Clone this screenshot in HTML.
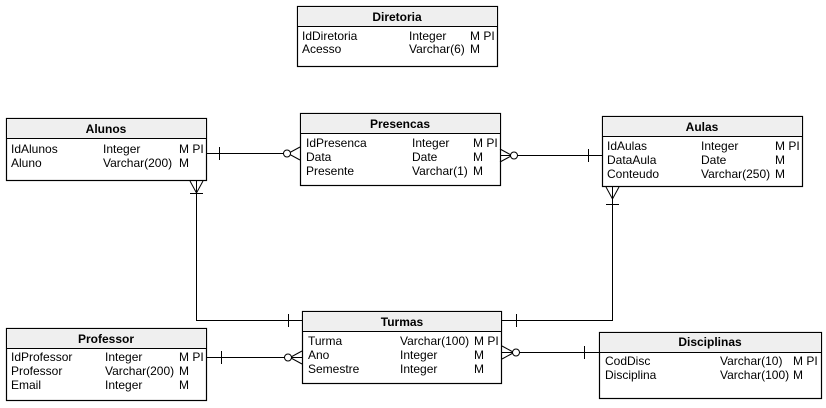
<!DOCTYPE html>
<html><head><meta charset="utf-8"><style>
html,body{margin:0;padding:0;background:#fff;}
svg{display:block;font-family:"Liberation Sans",Arial,sans-serif;font-size:12px;}
.b{fill:#fff;stroke:#000;stroke-width:1.2}
.h{fill:#efefef;stroke:#000;stroke-width:1}
.t{font-weight:bold;text-anchor:middle}
.l{stroke:#000;stroke-width:1;fill:none}
</style></head><body>
<svg width="826" height="408" viewBox="0 0 826 408">
<rect class="b" x="297.5" y="6.5" width="200" height="60"/>
<rect class="h" x="297.5" y="6.5" width="200" height="20"/>
<text class="t" x="397" y="21">Diretoria</text>
<text x="302" y="40">IdDiretoria</text><text x="409" y="40">Integer</text><text x="470" y="40">M PI</text>
<text x="302" y="53">Acesso</text><text x="409" y="53">Varchar(6)</text><text x="470" y="53">M</text>

<rect class="b" x="6.5" y="118.5" width="200" height="62"/>
<rect class="h" x="6.5" y="118.5" width="200" height="20"/>
<text class="t" x="106" y="133">Alunos</text>
<text x="11" y="153">IdAlunos</text><text x="103" y="153">Integer</text><text x="179" y="153">M PI</text>
<text x="11" y="167">Aluno</text><text x="103" y="167">Varchar(200)</text><text x="179" y="167">M</text>

<rect class="b" x="300.5" y="113.5" width="200" height="72"/>
<rect class="h" x="300.5" y="113.5" width="200" height="20"/>
<text class="t" x="400" y="128">Presencas</text>
<text x="306" y="147">IdPresenca</text><text x="412" y="147">Integer</text><text x="473" y="147">M PI</text>
<text x="306" y="161">Data</text><text x="412" y="161">Date</text><text x="473" y="161">M</text>
<text x="306" y="175">Presente</text><text x="412" y="175">Varchar(1)</text><text x="473" y="175">M</text>

<rect class="b" x="602.5" y="116.5" width="200" height="70"/>
<rect class="h" x="602.5" y="116.5" width="200" height="20"/>
<text class="t" x="702" y="131">Aulas</text>
<text x="607" y="150">IdAulas</text><text x="701" y="150">Integer</text><text x="775" y="150">M PI</text>
<text x="607" y="164">DataAula</text><text x="701" y="164">Date</text><text x="775" y="164">M</text>
<text x="607" y="178">Conteudo</text><text x="701" y="178">Varchar(250)</text><text x="775" y="178">M</text>

<rect class="b" x="6.5" y="328.5" width="200" height="72"/>
<rect class="h" x="6.5" y="328.5" width="200" height="20"/>
<text class="t" x="106" y="343">Professor</text>
<text x="11" y="361">IdProfessor</text><text x="105" y="361">Integer</text><text x="179" y="361">M PI</text>
<text x="11" y="375">Professor</text><text x="105" y="375">Varchar(200)</text><text x="179" y="375">M</text>
<text x="11" y="389">Email</text><text x="105" y="389">Integer</text><text x="179" y="389">M</text>

<rect class="b" x="302.5" y="311.5" width="199" height="72"/>
<rect class="h" x="302.5" y="311.5" width="199" height="20"/>
<text class="t" x="402" y="326">Turmas</text>
<text x="308" y="345">Turma</text><text x="400" y="345">Varchar(100)</text><text x="474" y="345">M PI</text>
<text x="308" y="359">Ano</text><text x="400" y="359">Integer</text><text x="474" y="359">M</text>
<text x="308" y="373">Semestre</text><text x="400" y="373">Integer</text><text x="474" y="373">M</text>

<rect class="b" x="599.5" y="332.5" width="222" height="66"/>
<rect class="h" x="599.5" y="332.5" width="222" height="20"/>
<text class="t" x="710" y="346">Disciplinas</text>
<text x="605" y="365">CodDisc</text><text x="720" y="365">Varchar(10)</text><text x="793" y="365">M PI</text>
<text x="605" y="379">Disciplina</text><text x="720" y="379">Varchar(100)</text><text x="793" y="379">M</text>

<path class="l" d="M206 153.5H284 M219.5 147V160 M300 147L288 153.5L300 160"/>
<circle class="l" cx="287" cy="153.5" r="3.5" style="fill:#fff"/>
<path class="l" d="M500 155.5H602 M588.5 149V162 M500 149L512 155.5L500 162"/>
<circle class="l" cx="514" cy="155.5" r="3.5" style="fill:#fff"/>
<path class="l" d="M196.5 181V320.5H302 M190 181L196.5 193L203 181 M190 193.5H203 M288.5 314V327"/>
<path class="l" d="M612.5 187V320.5H502 M606 187L612.5 199L619 187 M606 204.5H619 M516.5 314V327"/>
<path class="l" d="M206 357.5H302 M221.5 351V364 M302 351L290 357.5L302 364"/>
<circle class="l" cx="288" cy="357.5" r="3.5" style="fill:#fff"/>
<path class="l" d="M502 352.5H599 M584.5 346V359 M502 346L514 352.5L502 359"/>
<circle class="l" cx="516" cy="352.5" r="3.5" style="fill:#fff"/>
</svg>
</body></html>
